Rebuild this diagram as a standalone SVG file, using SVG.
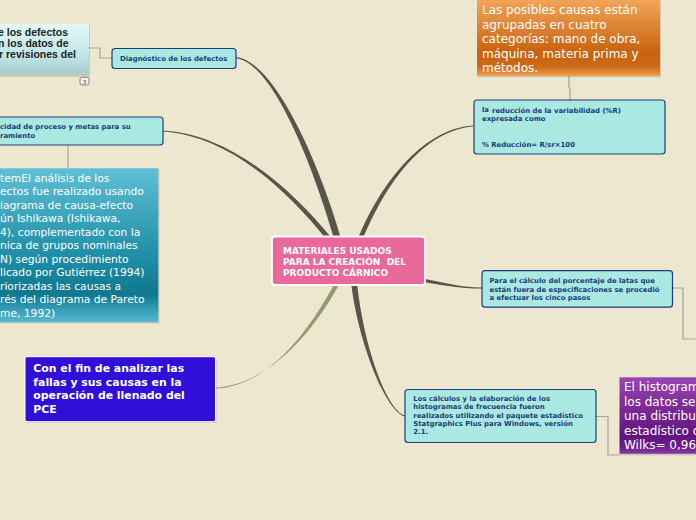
<svg xmlns="http://www.w3.org/2000/svg" width="696" height="520" viewBox="0 0 696 520">
<style>
.bg{fill:#eee7d0}
.node{fill:#aae8e2;stroke:#1e3c78;stroke-width:1.2}
.nt{font-family:"DejaVu Sans",Verdana,sans-serif;font-weight:bold;font-size:6.9px;fill:#1a3a78}
.elbow{fill:none;stroke:#a9a38f;stroke-width:1.2}
.br{fill:#57564a}
.wt{font-family:"DejaVu Sans",Verdana,sans-serif;fill:#ffffff}
.sh{fill:#000;opacity:0.12}
</style>
<defs>
<linearGradient id="gTeal" x1="0" y1="0" x2="0" y2="1">
<stop offset="0" stop-color="#5fbfd6"/>
<stop offset="0.55" stop-color="#2090a8"/>
<stop offset="0.82" stop-color="#0f7890"/>
<stop offset="0.93" stop-color="#3aa2bb"/>
<stop offset="1" stop-color="#5ab8cf"/>
</linearGradient>
<linearGradient id="gOrange" x1="0" y1="0" x2="0" y2="1">
<stop offset="0" stop-color="#f2a458"/>
<stop offset="0.7" stop-color="#c8620e"/>
<stop offset="0.88" stop-color="#cc6a18"/>
<stop offset="1" stop-color="#eea050"/>
</linearGradient>
<linearGradient id="gPurple" x1="0" y1="0" x2="0" y2="1">
<stop offset="0" stop-color="#9a44b4"/>
<stop offset="0.75" stop-color="#62147e"/>
<stop offset="0.9" stop-color="#6a1c88"/>
<stop offset="1" stop-color="#8a3aa8"/>
</linearGradient>
<linearGradient id="gCyan" x1="0" y1="0" x2="0" y2="1">
<stop offset="0" stop-color="#e2f8f8"/>
<stop offset="0.6" stop-color="#c2e6e6"/>
<stop offset="1" stop-color="#a6cccc"/>
</linearGradient>
</defs>
<rect class="bg" x="0" y="0" width="696" height="520"/>

<g id="connectors">
<path class="br" d="M236,57 C276,61 321.5,169 341.5,240 L334.5,240 C314.5,171 274,63 236,58.2 Z"/>
<path class="br" d="M163,130.5 C230,134 291.6,188.8 332,238.5 L328,241.5 C288.4,191.2 230,136 163,131.5 Z"/>
<path class="br" d="M473,125.5 C420,129 377.7,189.1 357.5,240 L362.5,240 C382.3,190.9 420,131 473,126.5 Z"/>
<path class="br" d="M482,287.6 C460,287.6 440,281.5 420,278.3 L420,281.7 C440,284.5 460,288.6 482,288.6 Z"/>
<path class="br" d="M405,415.6 C385,409 362.5,340 357,282 L351,282 C357.5,340 385,411 405,416.6 Z"/>
<path fill="#919d6c" d="M216,387.6 C270,384 313.8,331 340,283 L336,281 C310.2,329 270,386 216,388.6 Z"/>
<path class="elbow" d="M112,58 H100 V48 H89"/>
<path class="elbow" d="M68,145 V168"/>
<path class="elbow" d="M569,76 V88 H570 V100"/>
<path class="elbow" d="M673,288 H683 V339 H696"/>
<path class="elbow" d="M596,416.5 H608 V455 H620"/>
</g>

<g id="n-topleft">
<rect class="sh" x="-10" y="25" width="100" height="52"/>
<rect x="-10" y="24" width="99" height="51" fill="url(#gCyan)"/>
<g font-family="'Liberation Sans',Arial,sans-serif" font-weight="bold" font-size="10.5" fill="#222">
<text x="-2" y="36">e los defectos</text>
<text x="-2" y="47">n los datos de</text>
<text x="-1" y="58">r revisiones del</text>
</g>
<rect x="80" y="77.3" width="9" height="7.7" rx="2" fill="#eef0f0" stroke="#6a6a6a" stroke-width="0.8"/>
<text x="84.5" y="83.5" font-family="'DejaVu Sans',sans-serif" font-size="5.5" text-anchor="middle" fill="#333">3</text>
</g>

<g id="n-diag">
<rect class="node" x="112" y="48.5" width="124" height="20" rx="3"/>
<text class="nt" x="120" y="61">Diagnóstico de los defectos</text>
</g>

<g id="n-capacidad">
<rect class="node" x="-10" y="117" width="173" height="28" rx="3"/>
<text class="nt" x="0" y="128.5">cidad de proceso y metas para su</text>
<text class="nt" x="0" y="137.5">ramiento</text>
</g>

<g id="n-teal">
<rect class="sh" x="-10" y="169.5" width="169.5" height="154"/>
<rect x="-10" y="168.3" width="168.3" height="154" fill="url(#gTeal)"/>
<g class="wt" font-size="10.7">
<text x="0" y="181.5">temEl análisis de los</text>
<text x="0" y="195">ectos fue realizado usando</text>
<text x="0" y="208.5">iagrama de causa-efecto</text>
<text x="0" y="222">ún Ishikawa (Ishikawa,</text>
<text x="0" y="235.5">4), complementado con la</text>
<text x="0" y="249">nica de grupos nominales</text>
<text x="0" y="262.5">N) según procedimiento</text>
<text x="0" y="276">licado por Gutiérrez (1994)</text>
<text x="0" y="289.5">riorizadas las causas a</text>
<text x="0" y="303">rés del diagrama de Pareto</text>
<text x="0" y="316.5">me, 1992)</text>
</g>
</g>

<g id="n-central">
<rect x="272" y="236.5" width="153" height="48.5" rx="3" fill="#e9699a" stroke="#ffffff" stroke-width="1.8"/>
<g class="wt" font-weight="bold" font-size="9">
<text x="283" y="253.5">MATERIALES USADOS</text>
<text x="283" y="264.5">PARA LA CREACIÓN&#160; DEL</text>
<text x="283" y="275.5">PRODUCTO CÁRNICO</text>
</g>
</g>

<g id="n-orange">
<rect class="sh" x="477" y="1" width="184" height="76.5"/>
<rect x="477" y="0" width="183" height="76" fill="url(#gOrange)"/>
<g class="wt" font-size="12">
<text x="482" y="14">Las posibles causas están</text>
<text x="482" y="28.5">agrupadas en cuatro</text>
<text x="482" y="43">categorías: mano de obra,</text>
<text x="482" y="57.5">máquina, materia prima y</text>
<text x="482" y="72">métodos.</text>
</g>
</g>

<g id="n-reduccion">
<rect class="node" x="474" y="100" width="191" height="54" rx="3"/>
<text class="nt" x="482" y="111.5" font-size="7.6">la</text>
<text class="nt" x="492" y="112.5">reducción de la variabilidad (%R)</text>
<text class="nt" x="482" y="120.5">expresada como</text>
<text class="nt" x="482" y="147">% Reducción= R/sr×100</text>
</g>

<g id="n-para">
<rect class="node" x="482" y="270.7" width="190.5" height="36.5" rx="3"/>
<text class="nt" x="489.5" y="283">Para el cálculo del porcentaje de latas que</text>
<text class="nt" x="489.5" y="291.7">están fuera de especificaciones se procedió</text>
<text class="nt" x="489.5" y="300">a efectuar los cinco pasos</text>
</g>

<g id="n-calculos">
<rect class="node" x="405" y="389.5" width="191" height="53" rx="3"/>
<text class="nt" x="413.3" y="401">Los cálculos y la elaboración de los</text>
<text class="nt" x="413.3" y="409.3">histogramas de frecuencia fueron</text>
<text class="nt" x="413.3" y="417.6">realizados utilizando el paquete estadístico</text>
<text class="nt" x="413.3" y="425.9">Statgraphics Plus para Windows, versión</text>
<text class="nt" x="413.3" y="434.2">2.1.</text>
</g>

<g id="n-purple">
<rect class="sh" x="620.5" y="378.5" width="80" height="77"/>
<rect x="619.5" y="377.3" width="80" height="76.5" fill="url(#gPurple)"/>
<g class="wt" font-size="12">
<text x="624" y="391">El histogram</text>
<text x="624" y="405.5">los datos se</text>
<text x="624" y="420">una distribu</text>
<text x="624" y="434.5">estadístico d</text>
<text x="624" y="449">Wilks= 0,96</text>
</g>
</g>

<g id="n-confin">
<rect class="sh" x="25.5" y="358" width="191" height="65" rx="2"/>
<rect x="25" y="356.7" width="190.5" height="65" rx="2" fill="#3010d8" stroke="#ffffff" stroke-width="1"/>
<g class="wt" font-weight="bold" font-size="10.9">
<text x="33.3" y="371.7">Con el fin de analizar las</text>
<text x="33.3" y="385.5">fallas y sus causas en la</text>
<text x="33.3" y="399.3">operación de llenado del</text>
<text x="33.3" y="413.2">PCE</text>
</g>
</g>
</svg>
